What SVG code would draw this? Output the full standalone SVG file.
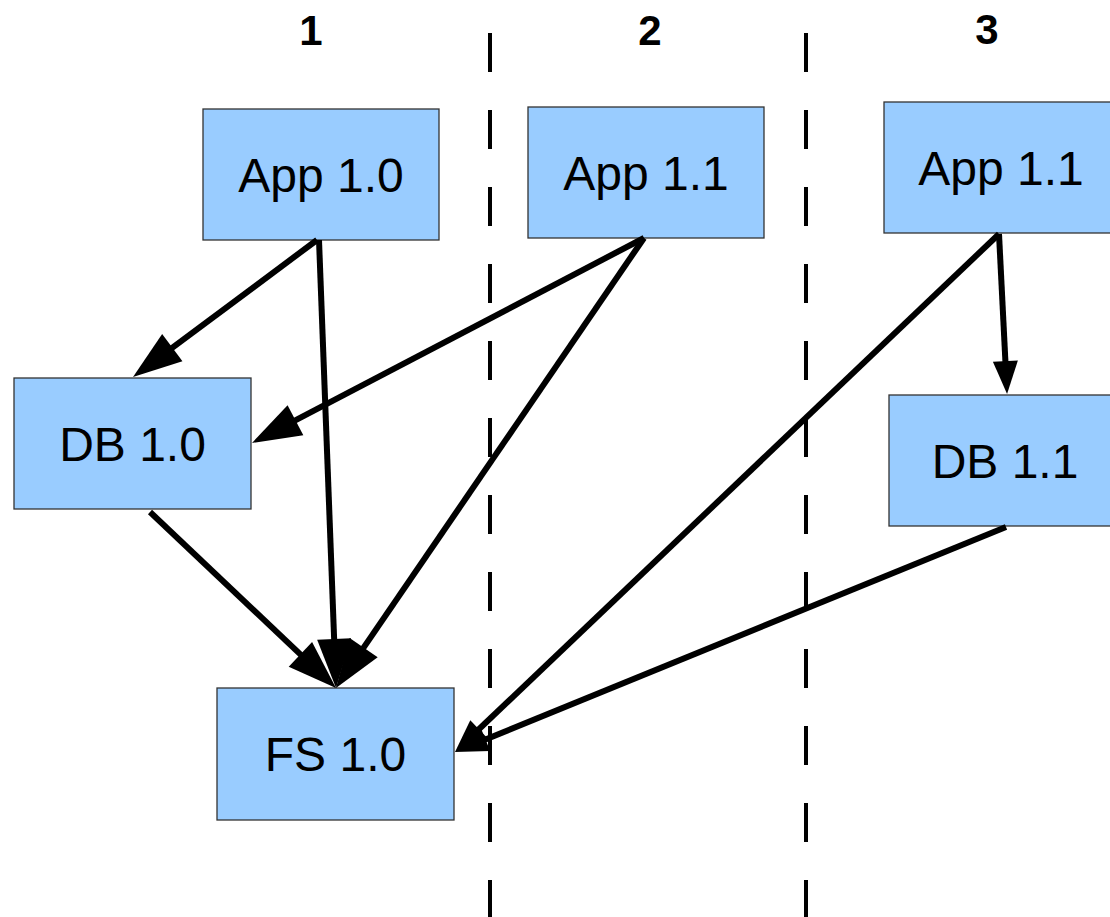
<svg xmlns="http://www.w3.org/2000/svg" width="1110" height="917" viewBox="0 0 1110 917">
  <style>
    .box { fill: #99ccff; stroke: #333333; stroke-width: 1.3; }
    .label { font-family: "Liberation Sans", Arial, sans-serif; font-size: 48px; fill: #000000; text-anchor: middle; }
    .head { font-family: "Liberation Sans", Arial, sans-serif; font-size: 42px; font-weight: bold; fill: #000000; text-anchor: middle; }
    .edge { fill: none; stroke: #000000; stroke-width: 6; }
    .big { marker-end: url(#arrowBig); }
    .small { marker-end: url(#arrowSmall); }
    .divider { stroke: #000000; stroke-width: 4; stroke-dasharray: 39 38; }
  </style>
  <defs>
    <marker id="arrowBig" markerUnits="userSpaceOnUse" markerWidth="49" markerHeight="34" refX="4" refY="17" orient="auto" overflow="visible">
      <polygon points="0,0 49,17 0,34" fill="#000000"/>
    </marker>
    <marker id="arrowSmall" markerUnits="userSpaceOnUse" markerWidth="33" markerHeight="25" refX="4" refY="12.5" orient="auto" overflow="visible">
      <polygon points="0,0 33,12.5 0,25" fill="#000000"/>
    </marker>
  </defs>

  <rect width="1110" height="917" fill="#ffffff"/>

  <!-- column headings -->
  <g id="headings">
    <text class="head" x="311" y="45">1</text>
    <text class="head" x="650" y="45">2</text>
    <text class="head" x="987" y="44">3</text>
  </g>

  <!-- column dividers -->
  <g id="dividers">
    <line class="divider" x1="490" y1="33" x2="490" y2="917"/>
    <line class="divider" x1="806" y1="33" x2="806" y2="917"/>
  </g>

  <!-- nodes -->
  <g id="app10">
    <rect class="box" x="203" y="109" width="236" height="131"/>
    <text class="label" x="321" y="192">App 1.0</text>
  </g>
  <g id="app11-col2">
    <rect class="box" x="528" y="107" width="236" height="131"/>
    <text class="label" x="646" y="190">App 1.1</text>
  </g>
  <g id="app11-col3">
    <rect class="box" x="884" y="102" width="236" height="131"/>
    <text class="label" x="1001" y="185">App 1.1</text>
  </g>
  <g id="db10">
    <rect class="box" x="14" y="378" width="237" height="131"/>
    <text class="label" x="132.5" y="461">DB 1.0</text>
  </g>
  <g id="db11">
    <rect class="box" x="889" y="395" width="236" height="131"/>
    <text class="label" x="1005" y="478">DB 1.1</text>
  </g>
  <g id="fs10">
    <rect class="box" x="217" y="688" width="237" height="132"/>
    <text class="label" x="335.5" y="771">FS 1.0</text>
  </g>

  <!-- connectors -->
  <g id="connectors">
    <path class="edge big" d="M317,240 L169.1,350.1"/>
    <path class="edge big" d="M319,240 L334.3,643"/>
    <path class="edge big" d="M644,238 L291.9,422.1"/>
    <path class="edge big" d="M644,238 L361.4,650.9"/>
    <path class="edge big" d="M150,512 L303.3,657.1"/>
    <path class="edge small" d="M999,234 L1005.6,365"/>
    <path class="edge small" d="M999,234 L476,732"/>
    <path class="edge small" d="M1006,527 L481.8,741"/>
  </g>
</svg>
